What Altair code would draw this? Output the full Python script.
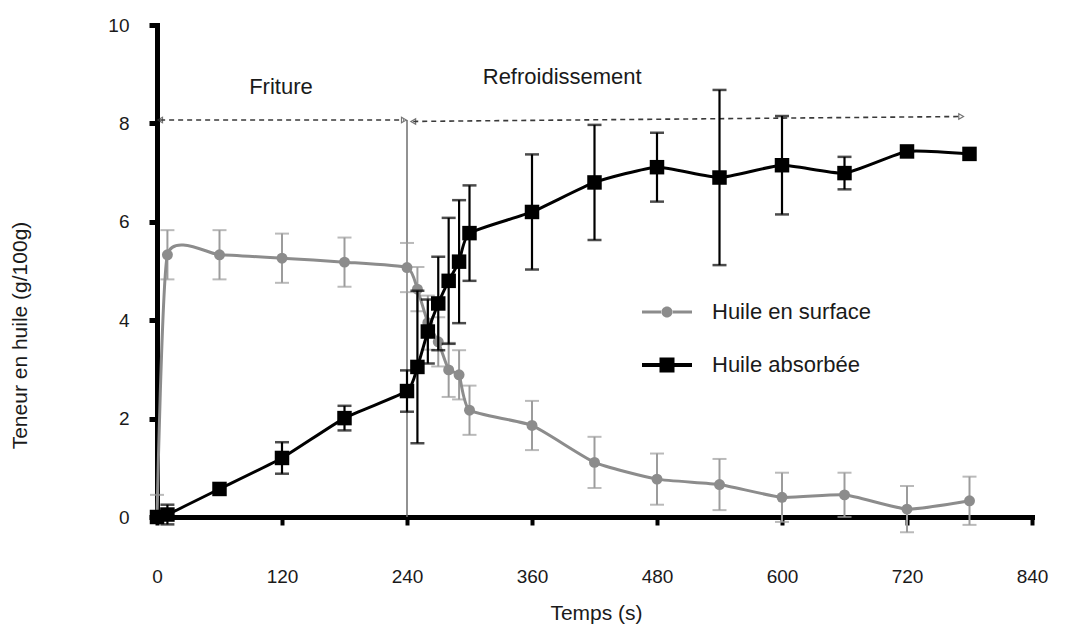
import altair as alt
import pandas as pd

# ---------------- data ----------------
t = [0, 10, 60, 120, 180, 240, 250, 260, 270, 280, 290, 300,
     360, 420, 480, 540, 600, 660, 720, 780]
surface = [0.0, 5.33, 5.33, 5.26, 5.18, 5.07, 4.63, 3.95, 3.56, 2.99, 2.89, 2.17,
           1.86, 1.11, 0.77, 0.66, 0.40, 0.45, 0.16, 0.33]
surface_err = [0.45, 0.5, 0.5, 0.5, 0.5, 0.5, 0.45, 0.55, 0.5, 0.55, 0.5, 0.5,
               0.5, 0.52, 0.52, 0.52, 0.5, 0.45, 0.47, 0.49]
absorbed = [0.0, 0.05, 0.57, 1.2, 2.01, 2.56, 3.05, 3.77, 4.34, 4.8, 5.19, 5.77,
            6.2, 6.8, 7.11, 6.9, 7.15, 6.99, 7.43, 7.38]
absorbed_err = [0, 0.2, 0, 0.32, 0.25, 0.42, 1.55, 0.65, 0.95, 1.28, 1.25, 0.97,
                1.17, 1.17, 0.7, 1.78, 1.0, 0.33, 0, 0]
series_names = ["Huile en surface", "Huile absorbée"]
# the reference legend indents the second label by a couple of spaces
legend_names = [series_names[0], "\u00a0\u00a0" + series_names[1]]

x_ticks = [0, 120, 240, 360, 480, 600, 720, 840]
y_ticks = [0, 2, 4, 6, 8, 10]

phase_labels = ["Friture", "Refroidissement"]
phase_label_t = [119, 389]
phase_label_y = [8.74, 8.94]

arrow_t_start = [3, 246]
arrow_t_end = [237, 772]
arrow_y_start = [8.07, 8.04]
arrow_y_end = [8.07, 8.14]

boundary_t = [240]
boundary_bottom = [0]
boundary_top = [8.07]

# ---------------- styling ----------------
FONT = "Liberation Sans"
TXT = "#1a1a1a"
GRAY = "#8c8c8c"
GRAY_ERR = "#9c9c9c"
BLACK = "#000000"

xs = alt.Scale(domain=[0, 840], nice=False, zero=False)
ys = alt.Scale(domain=[0, 10], nice=False, zero=False)

x_axis = alt.Axis(values=x_ticks, grid=False, domainWidth=5, domainColor="black",
                  domainCap="square", tickColor="black", tickWidth=4, tickSize=8,
                  labelFont=FONT, labelFontSize=19, labelColor=TXT, labelPadding=42,
                  labelFlush=False, titleFont=FONT, titleFontSize=21,
                  titleFontWeight="normal", titleColor=TXT, titleX=439, titleY=96,
                  titleAlign="center", titleBaseline="middle")
y_axis = alt.Axis(values=y_ticks, grid=False, domainWidth=5, domainColor="black",
                  domainCap="square", tickColor="black", tickWidth=5, tickSize=8,
                  labelFont=FONT, labelFontSize=19, labelColor=TXT, labelPadding=20,
                  labelFlush=False, titleFont=FONT, titleFontSize=21,
                  titleFontWeight="normal", titleColor=TXT, titleX=-137, titleY=310,
                  titleAngle=270, titleAlign="center", titleBaseline="middle")


def X(field):
    return alt.X(field, type="quantitative", scale=xs, axis=x_axis, title="Temps (s)")


def Y(field):
    return alt.Y(field, type="quantitative", scale=ys, axis=y_axis,
                 title="Teneur en huile (g/100g)")


rows = []
for i, tt in enumerate(t):
    rows.append({"t": tt, "v": surface[i], "e": surface_err[i], "serie": series_names[0]})
    rows.append({"t": tt, "v": absorbed[i], "e": absorbed_err[i], "serie": series_names[1]})
df = pd.DataFrame(rows)
df["lo"] = df["v"] - df["e"]
df["hi"] = df["v"] + df["e"]
# the bar of the zero reading at t = 0 is only drawn upwards in the reference
df.loc[df.v == 0, "lo"] = 0

df_s = df[df.serie == series_names[0]]
df_a = df[df.serie == series_names[1]]
err_s = df_s[df_s.e > 0]
err_a = df_a[df_a.e > 0]

# ---------------- annotation layers ----------------
bdf = pd.DataFrame({"t": boundary_t, "lo": boundary_bottom, "hi": boundary_top})
boundary = alt.Chart(bdf).mark_rule(color="#6e6e6e", strokeWidth=1.5).encode(
    x=X("t"), y=Y("lo"), y2="hi")

adf = pd.DataFrame({"t": arrow_t_start, "t2": arrow_t_end,
                    "y": arrow_y_start, "y2": arrow_y_end})
arrows = alt.Chart(adf).mark_rule(color="#3a3a3a", strokeWidth=1.6,
                                  strokeDash=[5, 4]).encode(
    x=X("t"), x2="t2", y=Y("y"), y2="y2")
heads_left = alt.Chart(adf).mark_point(shape="triangle-left", size=30, color="#3a3a3a",
                                       strokeWidth=1.2, filled=False).encode(
    x=X("t"), y=Y("y"))
heads_right = alt.Chart(adf).mark_point(shape="triangle-right", size=30, color="#3a3a3a",
                                        strokeWidth=1.2, filled=False).encode(
    x=X("t2"), y=Y("y2"))

tdf = pd.DataFrame({"label": phase_labels, "t": phase_label_t, "y": phase_label_y})
texts = alt.Chart(tdf).mark_text(font=FONT, fontSize=22, color=TXT, align="center",
                                 baseline="middle").encode(
    x=X("t"), y=Y("y"), text="label:N")

# ---------------- series layers ----------------
s_bars = alt.Chart(err_s).mark_rule(color=GRAY_ERR, strokeWidth=2).encode(
    x=X("t"), y=Y("lo"), y2="hi")
s_caps_lo = alt.Chart(err_s).mark_tick(color=GRAY_ERR, orient="horizontal", size=14,
                                       thickness=2).encode(x=X("t"), y=Y("lo"))
s_caps_hi = alt.Chart(err_s).mark_tick(color=GRAY_ERR, orient="horizontal", size=14,
                                       thickness=2).encode(x=X("t"), y=Y("hi"))
s_line = alt.Chart(df_s).mark_line(color=GRAY, strokeWidth=3, interpolate="cardinal",
                                   tension=0.5).encode(x=X("t"), y=Y("v"))
s_pts = alt.Chart(df_s).mark_point(shape="circle", filled=True, size=120, color=GRAY,
                                   opacity=1).encode(x=X("t"), y=Y("v"))

a_bars = alt.Chart(err_a).mark_rule(color=BLACK, strokeWidth=2.2).encode(
    x=X("t"), y=Y("lo"), y2="hi")
a_caps_lo = alt.Chart(err_a).mark_tick(color=BLACK, orient="horizontal", size=14,
                                       thickness=2.5).encode(x=X("t"), y=Y("lo"))
a_caps_hi = alt.Chart(err_a).mark_tick(color=BLACK, orient="horizontal", size=14,
                                       thickness=2.5).encode(x=X("t"), y=Y("hi"))
a_line = alt.Chart(df_a).mark_line(color=BLACK, strokeWidth=3, interpolate="cardinal",
                                   tension=0.5).encode(x=X("t"), y=Y("v"))
a_pts = alt.Chart(df_a).mark_point(shape="square", filled=True, size=210, color=BLACK,
                                   opacity=1).encode(x=X("t"), y=Y("v"))

# ---------------- legend (driven by scales, no data drawn) ----------------
sym_circle = ("M-1,-0.06L-0.2,-0.06L-0.2,0.06L-1,0.06Z "
              "M0.2,-0.06L1,-0.06L1,0.06L0.2,0.06Z "
              "M-0.22,0A0.22,0.22 0 1,0 0.22,0A0.22,0.22 0 1,0 -0.22,0Z")
sym_square = ("M-1,-0.08L-0.3,-0.08L-0.3,0.08L-1,0.08Z "
              "M0.3,-0.08L1,-0.08L1,0.08L0.3,0.08Z "
              "M-0.3,-0.3L0.3,-0.3L0.3,0.3L-0.3,0.3Z")
leg = alt.Legend(title=None, orient="none", legendX=485, legendY=262, padding=0,
                 symbolSize=2500, symbolStrokeWidth=0, symbolOpacity=1,
                 labelFont=FONT, labelFontSize=22, labelColor=TXT, labelOffset=20,
                 rowPadding=17, labelLimit=400)
ldf = pd.DataFrame({"serie": legend_names, "t": [0, 0], "v": [0, 0]})
legend_layer = alt.Chart(ldf).transform_filter("false").mark_point(filled=True).encode(
    x=X("t"), y=Y("v"),
    color=alt.Color("serie:N", scale=alt.Scale(domain=legend_names, range=[GRAY, BLACK]),
                    legend=leg),
    shape=alt.Shape("serie:N", scale=alt.Scale(domain=legend_names,
                                               range=[sym_circle, sym_square]),
                    legend=leg),
)

chart = alt.layer(
    boundary, arrows, heads_left, heads_right, texts,
    s_bars, s_caps_lo, s_caps_hi, s_line, s_pts,
    a_bars, a_caps_lo, a_caps_hi, a_line, a_pts,
    legend_layer,
).properties(
    width=875, height=492,
    autosize=alt.AutoSizeParams(type="none"),
    padding={"left": 149, "top": 17, "right": 32, "bottom": 111},
    background="white",
).configure_view(stroke=None)

chart.save("out.html", embed_options={"renderer": "svg", "actions": False})
